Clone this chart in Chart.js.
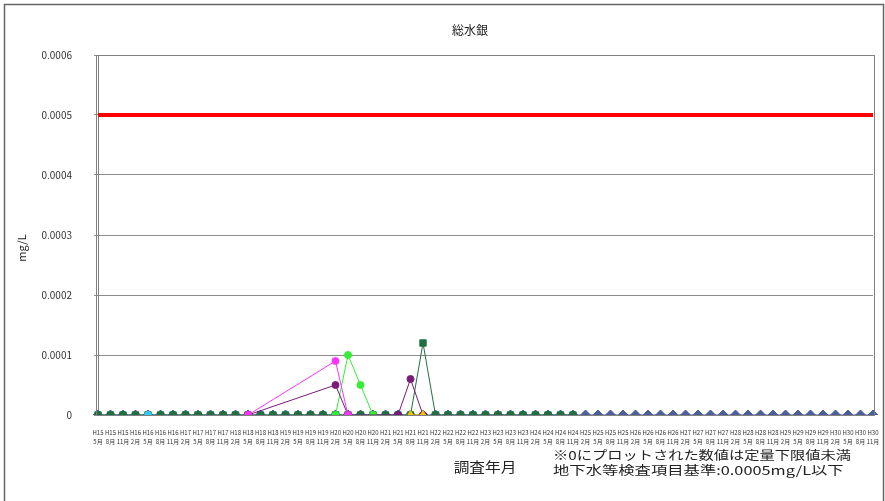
<!DOCTYPE html>
<html>
<head>
<meta charset="utf-8">
<script src="https://cdn.jsdelivr.net/npm/chart.js@4.4.0/dist/chart.umd.min.js"></script>
<style>
  html, body { margin: 0; padding: 0; background: #fff; }
  canvas { display: block; }
</style>
</head>
<body>
<canvas id="c" width="885" height="501"></canvas>
<script>
// 調査年月（横軸ラベル、読み取れないので四半期ごとに仮置き）
const months = [
  "H15.5","H15.8","H15.11","H16.2","H16.5","H16.8","H16.11","H17.2",
  "H17.5","H17.8","H17.11","H18.2","H18.5","H18.8","H18.11","H19.2",
  "H19.5","H19.8","H19.11","H20.2","H20.5","H20.8","H20.11","H21.2",
  "H21.5","H21.8","H21.11","H22.2","H22.5","H22.8","H22.11","H23.2",
  "H23.5","H23.8","H23.11","H24.2","H24.5","H24.8","H24.11","H25.2",
  "H25.5","H25.8","H25.11","H26.2","H26.5","H26.8","H26.11","H27.2",
  "H27.5","H27.8","H27.11","H28.2","H28.5","H28.8","H28.11","H29.2",
  "H29.5","H29.8","H29.11","H30.2","H30.5","H30.8","H30.11"
];

// 基準値 mg/L
const standard = 0.0005;

const yTicks = [0, 0.0001, 0.0002, 0.0003, 0.0004, 0.0005, 0.0006];

// 各地点の測定値（null = 未調査）
const wellA = [ // 濃い緑
  0,0,0,0,0,0,0,0,0,0,
  0,0,0,0,0,0,0,0,0,0,
  0,0,0,0,0,0,0.00012,0,0,0,
  0,0,0,0,0,0,0,0,0,null,
  null,null,null,null,null,null,null,null,null,null,
  null,null,null,null,null,null,null,null,null,null,
  null,null,null
];
const wellB = [ // 紺
  0,0,0,0,0,0,0,0,0,0,
  0,0,0,0,0,0,0,0,0,0,
  0,0,0,0,0,0,0,0,0,0,
  0,0,0,0,0,0,0,0,0,0,
  0,0,0,0,0,0,0,0,0,0,
  0,0,0,0,0,0,0,0,0,0,
  0,0,0
];
const wellC = [ // マゼンタ
  null,null,null,null,null,null,null,null,null,null,
  null,null,0,null,null,null,null,null,null,0.00009,
  0,null,null,null,null,null,null,null,null,null,
  null,null,null,null,null,null,null,null,null,null,
  null,null,null,null,null,null,null,null,null,null,
  null,null,null,null,null,null,null,null,null,null,
  null,null,null
];
const wellD = [ // 紫
  null,null,null,null,null,null,null,null,null,null,
  null,null,0,null,null,null,null,null,null,0.00005,
  0,null,null,null,0,0.00006,0,null,null,null,
  null,null,null,null,null,null,null,null,null,null,
  null,null,null,null,null,null,null,null,null,null,
  null,null,null,null,null,null,null,null,null,null,
  null,null,null
];
const wellE = [ // 黄緑
  null,null,null,null,null,null,null,null,null,null,
  null,null,null,null,null,null,null,null,null,0,
  0.0001,0.00005,0,null,null,null,null,null,null,null,
  null,null,null,null,null,null,null,null,null,null,
  null,null,null,null,null,null,null,null,null,null,
  null,null,null,null,null,null,null,null,null,null,
  null,null,null
];
const wellF = [ // 黄
  null,null,null,null,null,null,null,null,null,null,
  null,null,null,null,null,null,null,null,null,null,
  null,null,null,null,null,0,0,null,null,null,
  null,null,null,null,null,null,null,null,null,null,
  null,null,null,null,null,null,null,null,null,null,
  null,null,null,null,null,null,null,null,null,null,
  null,null,null
];
const wellG = [ // 水色
  null,null,null,null,0,null,null,null,null,null,
  null,null,null,null,null,null,null,null,null,null,
  null,null,null,null,null,null,null,null,null,null,
  null,null,null,null,null,null,null,null,null,null,
  null,null,null,null,null,null,null,null,null,null,
  null,null,null,null,null,null,null,null,null,null,
  null,null,null
];

const FONT = "'Noto Sans CJK JP', 'Noto Sans', sans-serif";

// 横に少し広げて書く（元図の字面に合わせる）
function wideText(ctx, text, x, y, sx) {
  ctx.save();
  ctx.translate(x, y);
  ctx.scale(sx, 1);
  ctx.fillText(text, 0, 0);
  ctx.restore();
}

// 表題・軸名・注記と枠線
const decorations = {
  id: "decorations",
  afterDraw(chart) {
    const ctx = chart.ctx;
    const a = chart.chartArea;
    ctx.save();
    // 外枠
    ctx.strokeStyle = "#666";
    ctx.lineWidth = 1.5;
    ctx.strokeRect(4.5, 4.5, 879, 530);
    // プロットエリア枠
    ctx.strokeStyle = "#808080";
    ctx.lineWidth = 1;
    ctx.strokeRect(a.left - 1.5, a.top + 0.5, a.right - a.left + 3, a.bottom - a.top);

    ctx.fillStyle = "#222";
    ctx.textBaseline = "middle";
    ctx.textAlign = "center";
    ctx.font = "12px " + FONT;
    ctx.fillText("総水銀", 470, 30);

    ctx.font = "14px " + FONT;
    wideText(ctx, "調査年月", 485, 467, 1.12);

    ctx.save();
    ctx.translate(22, 248);
    ctx.rotate(-Math.PI / 2);
    ctx.font = "11px " + FONT;
    ctx.fillText("mg/L", 0, 0);
    ctx.restore();

    ctx.textAlign = "left";
    ctx.font = "12px " + FONT;
    wideText(ctx, "※0にプロットされた数値は定量下限値未満", 553, 455, 1.27);
    wideText(ctx, "地下水等検査項目基準:0.0005mg/L以下", 553, 470, 1.36);
    ctx.restore();
  }
};

function well(data, color, style, radius) {
  return {
    data: data,
    borderColor: color,
    backgroundColor: color,
    borderWidth: 1,
    pointStyle: style,
    pointRadius: radius,
    pointBorderWidth: 1,
    spanGaps: true,
    tension: 0
  };
}

new Chart(document.getElementById("c"), {
  type: "line",
  plugins: [decorations],
  data: {
    labels: months,
    datasets: [
      well(wellG, "#33ccff", "circle", 3.5),
      well(wellF, "#f5c400", "triangle", 4.5),
      well(wellC, "#ff33ff", "circle", 3.5),
      well(wellD, "#7a1a7a", "circle", 3.5),
      well(wellE, "#33ee33", "circle", 3.5),
      well(wellA, "#1f7040", "rect", 4.5),
      well(wellB, "#4d5e9c", "rectRot", 5),
      {
        data: [{ x: months[0], y: standard }, { x: months[months.length - 1], y: standard }],
        borderColor: "#ff0000",
        borderWidth: 4,
        pointRadius: 0
      }
    ]
  },
  options: {
    responsive: false,
    animation: false,
    devicePixelRatio: 1,
    layout: { padding: { left: 0, top: 55, right: 12, bottom: 0 } },
    plugins: {
      legend: { display: false },
      tooltip: { enabled: false }
    },
    scales: {
      x: {
        offset: false,
        afterFit(scale) { scale.height = 86; },
        grid: { display: false },
        border: { color: "#808080" },
        ticks: {
          autoSkip: false,
          maxRotation: 0,
          minRotation: 0,
          color: "#333",
          font: { size: 6, family: FONT, lineHeight: 1.5 },
          padding: 5,
          callback(v) {
            const s = months[v].split(".");
            return [s[0], s[1] + "月"];
          }
        }
      },
      y: {
        min: 0,
        max: 0.0006,
        afterFit(scale) { scale.width = 98; },
        afterBuildTicks(scale) { scale.ticks = yTicks.map(v => ({ value: v })); },
        grid: { color: "#8c8c8c", tickLength: 4, drawTicks: true },
        border: { color: "#808080" },
        ticks: {
          color: "#333",
          padding: 22,
          font: { size: 10, family: FONT },
          callback(v) { return v === 0 ? "0" : v.toFixed(4); }
        }
      }
    }
  }
});
</script>
</body>
</html>
